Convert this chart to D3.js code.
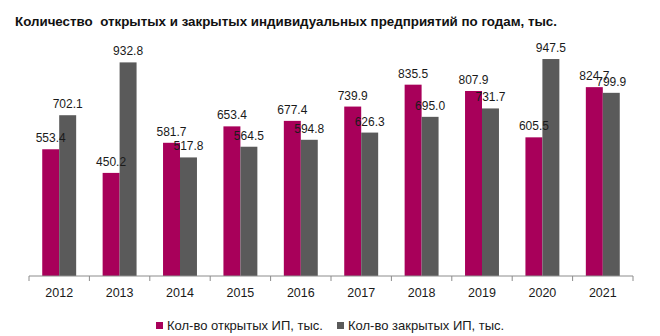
<!DOCTYPE html>
<html>
<head>
<meta charset="utf-8">
<script src="https://cdn.jsdelivr.net/npm/d3@7"></script>
<style>
  body { margin: 0; background: #fff; }
  text { font-family: "Liberation Sans", Arial, sans-serif; }
</style>
</head>
<body>
<div id="chart"></div>
<script>
const years = ["2012", "2013", "2014", "2015", "2016", "2017", "2018", "2019", "2020", "2021"];
const opened = [553.4, 450.2, 581.7, 653.4, 677.4, 739.9, 835.5, 807.9, 605.5, 824.7];
const closed = [702.1, 932.8, 517.8, 564.5, 594.8, 626.3, 695.0, 731.7, 947.5, 799.9];
const seriesNames = ["Кол-во открытых ИП, тыс.", "Кол-во закрытых ИП, тыс."];
const colors = ["#a8005a", "#5a5a5a"];

const width = 660, height = 336;
const margin = {left: 29, right: 27, top: 47, bottom: 60};

const svg = d3.select("#chart").append("svg")
  .attr("width", width)
  .attr("height", height);

svg.append("text")
  .attr("x", 15)
  .attr("y", 26)
  .attr("font-size", 13)
  .attr("font-weight", "bold")
  .attr("fill", "#111")
  .style("white-space", "pre")
  .attr("textLength", 542)
  .attr("lengthAdjust", "spacingAndGlyphs")
  .text("Количество  открытых и закрытых индивидуальных предприятий по годам, тыс.");

const x = d3.scaleBand()
  .domain(years)
  .range([margin.left, width - margin.right]);

// two bars of ~17px inside each 60px category
const x1 = d3.scaleBand()
  .domain([0, 1])
  .range([0, x.bandwidth()])
  .paddingOuter(0.78)
  .paddingInner(0);

const y = d3.scaleLinear()
  .domain([0, 1000])
  .range([height - margin.bottom, margin.top]);

const rows = years.map((yr, i) => ({year: yr, values: [opened[i], closed[i]]}));

const groups = svg.append("g")
  .selectAll("g")
  .data(rows)
  .join("g")
  .attr("transform", d => `translate(${x(d.year)},0)`);

groups.selectAll("rect")
  .data(d => d.values.map((v, k) => ({k, v})))
  .join("rect")
  .attr("x", d => x1(d.k))
  .attr("y", d => y(d.v))
  .attr("width", x1.bandwidth())
  .attr("height", d => y(0) - y(d.v))
  .attr("fill", d => colors[d.k]);

groups.selectAll("text.lbl")
  .data(d => d.values.map((v, k) => ({k, v})))
  .join("text")
  .attr("class", "lbl")
  .attr("x", d => x1(d.k) + x1.bandwidth() / 2)
  .attr("y", d => y(d.v) - 7)
  .attr("text-anchor", "middle")
  .attr("font-size", 12)
  .attr("fill", "#1a1a1a")
  .text(d => d.v.toFixed(1));

// axis with ticks between categories
const axis = svg.append("g")
  .attr("transform", `translate(0,${y(0)})`);

axis.append("line")
  .attr("x1", margin.left)
  .attr("x2", width - margin.right)
  .attr("stroke", "#8c8c8c");

axis.selectAll("line.tick")
  .data(years.concat(["end"]))
  .join("line")
  .attr("class", "tick")
  .attr("x1", (d, i) => i < years.length ? x(d) : width - margin.right)
  .attr("x2", (d, i) => i < years.length ? x(d) : width - margin.right)
  .attr("y1", 0)
  .attr("y2", 5)
  .attr("stroke", "#8c8c8c");

axis.selectAll("text")
  .data(years)
  .join("text")
  .attr("x", d => x(d) + x.bandwidth() / 2)
  .attr("y", 21)
  .attr("text-anchor", "middle")
  .attr("font-size", 12.5)
  .attr("fill", "#1a1a1a")
  .text(d => d);

// legend
const legend = svg.append("g");
const legendX = [156, 337];
seriesNames.forEach((name, i) => {
  legend.append("rect")
    .attr("x", legendX[i])
    .attr("y", 322)
    .attr("width", 7)
    .attr("height", 7)
    .attr("fill", colors[i]);
  legend.append("text")
    .attr("x", legendX[i] + 11)
    .attr("y", 330)
    .attr("font-size", 13)
    .attr("fill", "#1a1a1a")
    .text(name);
});
</script>
</body>
</html>
